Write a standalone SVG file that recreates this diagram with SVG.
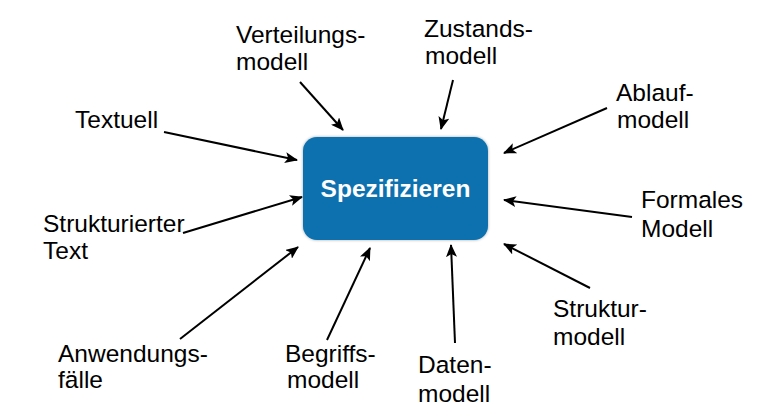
<svg xmlns="http://www.w3.org/2000/svg" width="783" height="420" viewBox="0 0 783 420">
<style>
.lbl{font-family:"Liberation Sans",Arial,sans-serif;font-size:24.5px;fill:#000}
.ttl{font-family:"Liberation Sans",Arial,sans-serif;font-size:24.5px;font-weight:bold;fill:#fff}
.con line{stroke:#000;stroke-width:2;marker-end:url(#ah)}
</style>
<defs>
<marker id="ah" viewBox="0 0 13 11" refX="12" refY="5.5" markerWidth="13" markerHeight="11" markerUnits="userSpaceOnUse" orient="auto">
<path d="M0,0 L13,5.5 L0,11 L3,5.5 Z" fill="#000"/>
</marker>
<filter id="sh" x="-10%" y="-10%" width="120%" height="120%">
<feGaussianBlur in="SourceAlpha" stdDeviation="1.5"/>
<feComponentTransfer><feFuncA type="linear" slope="0.35"/></feComponentTransfer>
<feMerge><feMergeNode/><feMergeNode in="SourceGraphic"/></feMerge>
</filter>
</defs>
<rect width="783" height="420" fill="#fff"/>
<g id="spezifizieren">
<rect x="303" y="137" width="185" height="103" rx="14" fill="#0871AF" filter="url(#sh)"/>
<text class="ttl" x="395.5" y="197" text-anchor="middle">Spezifizieren</text>
</g>
<g id="verteilungsmodell"><text class="lbl" x="236" y="43">Verteilungs-</text><text class="lbl" x="236" y="70">modell</text></g>
<g id="zustandsmodell"><text class="lbl" x="424" y="37">Zustands-</text><text class="lbl" x="425" y="64">modell</text></g>
<g id="ablaufmodell"><text class="lbl" x="616" y="101">Ablauf-</text><text class="lbl" x="617" y="128">modell</text></g>
<g id="formalesmodell"><text class="lbl" x="641" y="208">Formales</text><text class="lbl" x="641" y="237">Modell</text></g>
<g id="strukturmodell"><text class="lbl" x="553" y="317">Struktur-</text><text class="lbl" x="553" y="345">modell</text></g>
<g id="textuell"><text class="lbl" x="75" y="128">Textuell</text></g>
<g id="strukturiertertext"><text class="lbl" x="43" y="232">Strukturierter</text><text class="lbl" x="43" y="259">Text</text></g>
<g id="anwendungsfaelle"><text class="lbl" x="58" y="362">Anwendungs-</text><text class="lbl" x="58" y="388">fälle</text></g>
<g id="begriffsmodell"><text class="lbl" x="285" y="362">Begriffs-</text><text class="lbl" x="287" y="388">modell</text></g>
<g id="datenmodell"><text class="lbl" x="418" y="373">Daten-</text><text class="lbl" x="418" y="402">modell</text></g>
<g id="connectors" class="con">
<line x1="300" y1="82" x2="343" y2="130"/>
<line x1="453" y1="80" x2="441" y2="129"/>
<line x1="607" y1="108" x2="504" y2="153"/>
<line x1="632" y1="217" x2="504" y2="200"/>
<line x1="590" y1="288" x2="504" y2="244"/>
<line x1="164" y1="132" x2="297" y2="160"/>
<line x1="183" y1="233" x2="302" y2="197"/>
<line x1="180" y1="339" x2="298" y2="247"/>
<line x1="327" y1="340" x2="370" y2="248"/>
<line x1="455" y1="343" x2="451" y2="245"/>
</g>
</svg>
